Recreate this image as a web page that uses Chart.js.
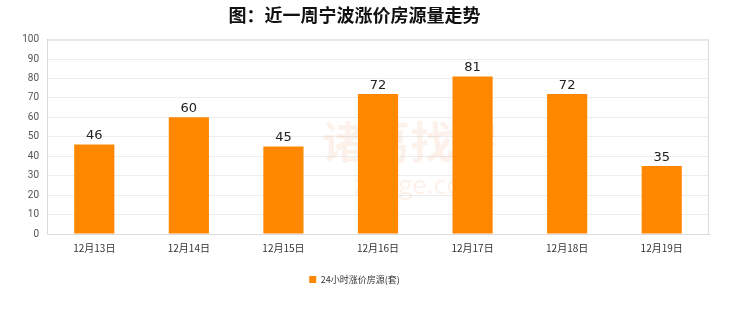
<!DOCTYPE html>
<html>
<head>
<meta charset="utf-8">
<script src="https://cdn.jsdelivr.net/npm/chart.js@4"></script>
<style>
  html, body { margin: 0; padding: 0; background: #fff; }
  #wrap { width: 740px; height: 312px; }
</style>
</head>
<body>
<div id="wrap"><canvas id="c" width="740" height="312"></canvas></div>
<script>
const categories = ['12月13日', '12月14日', '12月15日', '12月16日', '12月17日', '12月18日', '12月19日'];
const riseCounts = [46, 60, 45, 72, 81, 72, 35];
const seriesName = '24小时涨价房源(套)';
const yMax = 100;
const yStep = 10;

const CJK = '"Noto Sans CJK SC", "Noto Sans", sans-serif';

// faint watermark behind the bars
const watermark = {
  id: 'watermark',
  beforeDatasetsDraw(chart) {
    const ctx = chart.ctx;
    ctx.save();
    ctx.fillStyle = 'rgba(240, 160, 110, 0.14)';
    ctx.font = 'bold 44px ' + CJK;
    ctx.textAlign = 'center';
    ctx.textBaseline = 'middle';
    ctx.fillText('诸葛找房', 410, 142);
    ctx.font = '26px ' + CJK;
    ctx.fillText('zhuge.com', 420, 184);
    ctx.restore();
  }
};

// value labels above each bar
const valueLabels = {
  id: 'valueLabels',
  afterDatasetsDraw(chart) {
    const ctx = chart.ctx;
    const meta = chart.getDatasetMeta(0);
    ctx.save();
    ctx.fillStyle = '#222';
    ctx.font = '13px "DejaVu Sans", sans-serif';
    ctx.textAlign = 'center';
    ctx.textBaseline = 'bottom';
    meta.data.forEach((bar, i) => {
      ctx.fillText(riseCounts[i], bar.x, bar.y - 2);
    });
    ctx.restore();
  }
};

// plot area border
const frame = {
  id: 'frame',
  beforeDatasetsDraw(chart) {
    const a = chart.chartArea;
    const ctx = chart.ctx;
    ctx.save();
    ctx.strokeStyle = '#dcdcdc';
    ctx.lineWidth = 1;
    ctx.strokeRect(a.left + 0.5, a.top + 0.5, a.right - a.left - 1, a.bottom - a.top);
    ctx.restore();
  }
};

new Chart(document.getElementById('c'), {
  type: 'bar',
  data: {
    labels: categories,
    datasets: [{
      label: seriesName,
      data: riseCounts,
      backgroundColor: '#FF8800',
      borderWidth: 0,
      categoryPercentage: 0.85,
      barPercentage: 0.5
    }]
  },
  options: {
    responsive: false,
    animation: false,
    layout: { padding: { left: 0, right: 31, top: 0, bottom: 18 } },
    plugins: {
      title: {
        display: true,
        text: '图：近一周宁波涨价房源量走势',
        color: '#111',
        font: { family: CJK, size: 18, weight: 'bold' },
        padding: { top: 4, bottom: 14 }
      },
      legend: {
        position: 'bottom',
        labels: {
          boxWidth: 7,
          boxHeight: 7,
          color: '#333',
          font: { family: CJK, size: 9 },
          padding: 21
        }
      },
      tooltip: { enabled: false }
    },
    scales: {
      x: {
        grid: { display: false },
        border: { color: '#cccccc' },
        ticks: { color: '#333', font: { family: CJK, size: 10 }, padding: 0 }
      },
      y: {
        min: 0,
        max: yMax,
        afterFit(scale) { scale.width = 47; },
        grid: { color: '#ececec', drawTicks: false },
        border: { color: '#cccccc' },
        ticks: { stepSize: yStep, color: '#555', font: { family: 'Roboto, sans-serif', size: 10 }, padding: 8 }
      }
    }
  },
  plugins: [watermark, frame, valueLabels]
});
</script>
</body>
</html>
